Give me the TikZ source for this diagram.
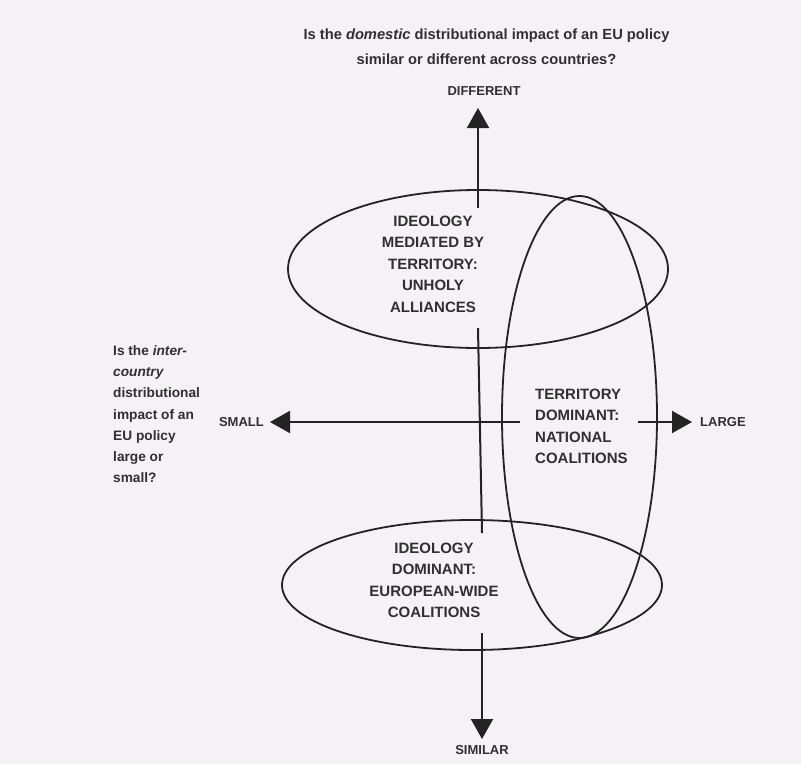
\documentclass[tikz,border=0pt]{standalone}
\usepackage{fontspec}
\setmainfont{Liberation Sans}
\usetikzlibrary{arrows.meta,shapes.geometric}
\definecolor{bg}{RGB}{245,242,245}
\definecolor{ink}{RGB}{35,35,35}
\definecolor{txt}{RGB}{48,48,48}
\begin{document}
\begin{tikzpicture}[x=1pt,y=-1pt,
  axis/.style={line width=2pt, draw=ink},
  tip/.style={-{Triangle[width=22pt,length=20pt]}},
  oval/.style={ellipse, draw=ink, line width=1.8pt, inner sep=0pt},
  lbl/.style={font=\fontsize{15}{21.5}\selectfont\bfseries, text=txt, align=center, inner sep=0pt},
  axlbl/.style={font=\fontsize{13}{15}\selectfont\bfseries, text=txt, inner sep=0pt},
  ques/.style={font=\fontsize{13.7}{21.3}\selectfont\bfseries, text=txt, inner sep=0pt},
  ttl/.style={font=\fontsize{14.7}{24.5}\selectfont\bfseries, text=txt, align=center, inner sep=0pt}
]
\fill[bg] (0,0) rectangle (801,764);
\useasboundingbox (0,0) rectangle (801,764);

% ellipses
\node[oval, minimum width=380pt, minimum height=158pt] (upper) at (478,269) {};
\node[oval, minimum width=380pt, minimum height=130pt] (lower) at (472,585) {};
\node[oval, minimum width=155pt, minimum height=442pt] (vert) at (579.5,417) {};

% axis coordinates
\coordinate (vtop) at (478,108);
\coordinate (v1) at (478,208);
\coordinate (v2) at (478,328);
\coordinate (v3) at (482,533);
\coordinate (v4) at (482,633);
\coordinate (vbot) at (482,739);
\coordinate (hl) at (270,422);
\coordinate (h1) at (520,422);
\coordinate (h2) at (638,422);
\coordinate (hr) at (692,422);

\draw[axis,tip] (v1) -- (vtop);
\draw[axis] (v2) -- (v3);
\draw[axis,tip] (v4) -- (vbot);
\draw[axis,tip] (h1) -- (hl);
\draw[axis,tip] (h2) -- (hr);

% texts
\node[ttl, anchor=north] (title) at (486.5,29) {Is the \textit{domestic} distributional impact of an EU policy\\similar or different across countries?};
\node[axlbl] (diff) at (484,91) {DIFFERENT};
\node[axlbl] (sim) at (482,750) {SIMILAR};
\node[axlbl, anchor=east] (small) at (264,422) {SMALL};
\node[axlbl, anchor=west] (large) at (700,422) {LARGE};

\node[ques, align=left, anchor=north west] (q) at (113,345) {Is the \textit{inter-}\\\textit{country}\\distributional\\impact of an\\EU policy\\large or\\small?};

\node[lbl] (ideoterr) at (433,264) {IDEOLOGY\\MEDIATED BY\\TERRITORY:\\UNHOLY\\ALLIANCES};
\node[lbl, align=left, anchor=west] (terr) at (535,426.5) {TERRITORY\\DOMINANT:\\NATIONAL\\COALITIONS};
\node[lbl] (ideodom) at (434,580.5) {IDEOLOGY\\DOMINANT:\\EUROPEAN-WIDE\\COALITIONS};
\end{tikzpicture}
\end{document}
